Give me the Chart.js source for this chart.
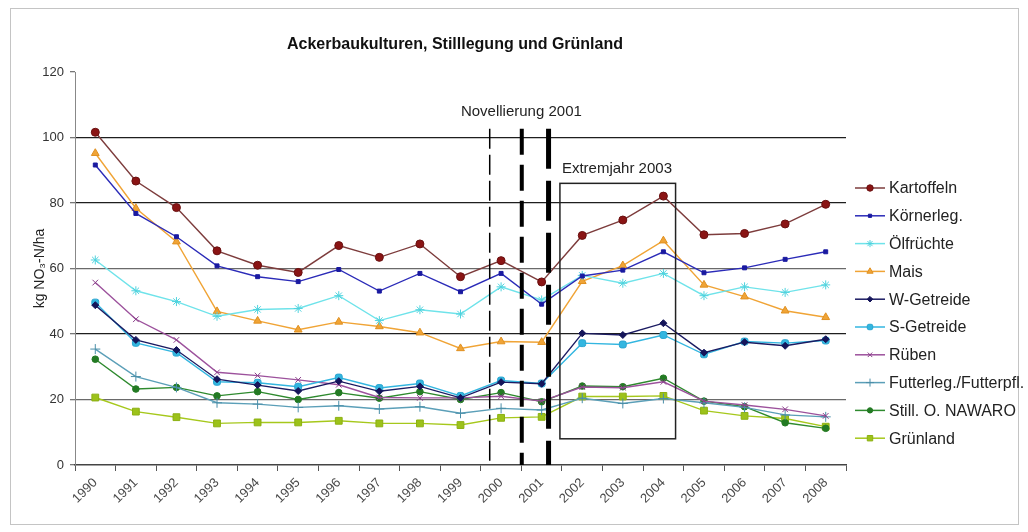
<!DOCTYPE html>
<html lang="de">
<head>
<meta charset="UTF-8">
<title>Ackerbaukulturen, Stilllegung und Grünland</title>
<script src="https://cdn.jsdelivr.net/npm/chart.js@4"></script>
<style>
  html, body { margin: 0; padding: 0; background: #fff; }
  canvas { display: block; }
</style>
</head>
<body>
<canvas id="chart" width="1028" height="532"></canvas>
<script>
  const years = ['1990', '1991', '1992', '1993', '1994', '1995', '1996', '1997', '1998', '1999',
                 '2000', '2001', '2002', '2003', '2004', '2005', '2006', '2007', '2008'];

  const kartoffeln  = [101.6, 86.7, 78.6, 65.4, 61.0, 58.8, 67.0, 63.4, 67.5, 57.5, 62.4, 55.9, 70.1, 74.8, 82.1, 70.3, 70.7, 73.6, 79.6];
  const koernerleg  = [91.6, 76.8, 69.7, 60.8, 57.5, 56.0, 59.7, 53.1, 58.5, 52.9, 58.5, 49.1, 57.7, 59.5, 65.1, 58.7, 60.2, 62.8, 65.1];
  const oelfruechte = [62.6, 53.2, 49.9, 45.4, 47.5, 47.8, 51.7, 44.1, 47.4, 46.1, 54.4, 50.4, 57.9, 55.5, 58.5, 51.7, 54.4, 52.7, 55.0];
  const mais        = [95.2, 78.4, 68.2, 46.9, 44.0, 41.3, 43.7, 42.3, 40.4, 35.6, 37.7, 37.5, 56.1, 60.9, 68.5, 55.0, 51.4, 47.1, 45.1];
  const wGetreide   = [48.8, 38.2, 35.1, 26.2, 24.4, 22.6, 25.6, 22.5, 24.0, 20.5, 25.3, 24.8, 40.2, 39.7, 43.3, 34.3, 37.5, 36.4, 38.4];
  const sGetreide   = [49.6, 37.3, 34.3, 25.4, 25.1, 23.9, 26.7, 23.5, 24.9, 21.1, 25.8, 24.9, 37.2, 36.8, 39.7, 33.8, 37.7, 37.2, 38.0];
  const rueben      = [55.7, 44.5, 38.2, 28.3, 27.3, 26.0, 24.5, 20.6, 20.5, 20.5, 21.0, 19.5, 23.8, 23.6, 25.4, 19.5, 18.3, 17.0, 15.0];
  const futterleg   = [35.4, 27.0, 23.7, 19.0, 18.6, 17.6, 18.1, 17.1, 17.8, 15.8, 17.3, 16.8, 20.4, 18.8, 20.3, 19.0, 17.6, 15.3, 14.7];
  const stilllegung = [32.3, 23.2, 23.7, 21.1, 22.4, 20.0, 22.1, 20.4, 22.4, 20.0, 22.1, 19.3, 24.1, 23.9, 26.5, 19.5, 17.8, 12.9, 11.2];
  const gruenland   = [20.6, 16.3, 14.6, 12.7, 13.0, 13.0, 13.5, 12.7, 12.7, 12.2, 14.4, 14.7, 20.9, 20.9, 21.1, 16.6, 15.0, 14.2, 11.7];

  const yTicks = [0, 20, 40, 60, 80, 100, 120];

  const FONT = "'Liberation Sans', Arial, sans-serif";

  // marker styles roughly like the Excel defaults in the original
  const series = [
    { label: 'Kartoffeln',            data: kartoffeln,  line: '#7d3c3c', fill: '#8a1414', edge: '#6a1010', style: 'circle',      r: 4 },
    { label: 'Körnerleg.',            data: koernerleg,  line: '#2b2bb8', fill: '#1a1aa0', edge: '#1a1aa0', style: 'rect',        r: 2.8 },
    { label: 'Ölfrüchte',             data: oelfruechte, line: '#6fe3ea', fill: '#6fe3ea', edge: '#4fd3de', style: 'star',        r: 4.5 },
    { label: 'Mais',                  data: mais,        line: '#f0a436', fill: '#f0a436', edge: '#e09020', style: 'triangle',    r: 4.5 },
    { label: 'W-Getreide',            data: wGetreide,   line: '#1b1b62', fill: '#15155a', edge: '#15155a', style: 'rectRot',     r: 3.5 },
    { label: 'S-Getreide',            data: sGetreide,   line: '#33b6e0', fill: '#33b6e0', edge: '#2aa5d0', style: 'rectRounded', r: 4 },
    { label: 'Rüben',                 data: rueben,      line: '#9c519c', fill: '#9c519c', edge: '#8a3f8a', style: 'crossRot',    r: 4 },
    { label: 'Futterleg./Futterpfl.', data: futterleg,   line: '#5b9fb8', fill: '#5b9fb8', edge: '#4a8ea8', style: 'cross',       r: 5 },
    { label: 'Still. O. NAWARO',      data: stilllegung, line: '#2e8a2e', fill: '#237a23', edge: '#237a23', style: 'circle',      r: 3.3 },
    { label: 'Grünland',              data: gruenland,   line: '#a6c81c', fill: '#9cc21a', edge: '#8cb012', style: 'rect',        r: 4.8 }
  ];

  // annotations in data units (x = category index)
  const novLines = [
    { at: 9.72,  width: 1.5, dash: [20, 6] },
    { at: 10.51, width: 4,   dash: [26, 10] },
    { at: 11.17, width: 5,   dash: [40, 12] }
  ];
  const novTop = 102.7;
  const extremBox = { x0: 11.45, x1: 14.3, y0: 8, y1: 86 };

  function gridColor(v) {
    if (v === 0 || v === 120) return 'rgba(0,0,0,0)';
    return (v === 20 || v === 60) ? '#6a6a6a' : '#1e1e1e';
  }

  const framePlugin = {
    id: 'frame',
    beforeDraw(chart) {
      const ctx = chart.ctx;
      ctx.save();
      ctx.fillStyle = '#fff';
      ctx.fillRect(0, 0, chart.width, chart.height);
      ctx.strokeStyle = '#c4c4c4';
      ctx.lineWidth = 1;
      ctx.strokeRect(10.5, 8.5, 1008, 516);
      ctx.restore();
    }
  };

  const notesPlugin = {
    id: 'notes',
    afterDatasetsDraw(chart) {
      const ctx = chart.ctx;
      const xs = chart.scales.x, ys = chart.scales.y;
      ctx.save();
      ctx.strokeStyle = '#000';
      novLines.forEach(l => {
        const x = xs.getPixelForValue(l.at);
        ctx.lineWidth = l.width;
        ctx.setLineDash(l.dash);
        ctx.beginPath();
        ctx.moveTo(x, ys.getPixelForValue(novTop));
        ctx.lineTo(x, ys.getPixelForValue(0));
        ctx.stroke();
      });
      ctx.setLineDash([]);
      ctx.lineWidth = 1.5;
      ctx.strokeStyle = '#222';
      const bx0 = xs.getPixelForValue(extremBox.x0), bx1 = xs.getPixelForValue(extremBox.x1);
      const by0 = ys.getPixelForValue(extremBox.y1), by1 = ys.getPixelForValue(extremBox.y0);
      ctx.strokeRect(bx0, by0, bx1 - bx0, by1 - by0);

      ctx.fillStyle = '#222';
      ctx.font = '15px ' + FONT;
      ctx.textBaseline = 'middle';
      ctx.textAlign = 'center';
      ctx.fillText('Novellierung 2001', xs.getPixelForValue(10.5), ys.getPixelForValue(107.8));
      ctx.textAlign = 'left';
      ctx.fillText('Extremjahr 2003', bx0 + 2, ys.getPixelForValue(90.4));
      ctx.restore();
    }
  };

  const sideLegend = {
    id: 'sideLegend',
    afterDraw(chart) {
      const ctx = chart.ctx;
      const x0 = chart.chartArea.right + 9;
      ctx.save();
      ctx.font = '16px ' + FONT;
      ctx.textBaseline = 'middle';
      ctx.textAlign = 'left';
      chart.data.datasets.forEach((ds, i) => {
        const y = 188 + i * 27.8;
        ctx.strokeStyle = ds.borderColor;
        ctx.lineWidth = 1.5;
        ctx.beginPath();
        ctx.moveTo(x0, y);
        ctx.lineTo(x0 + 30, y);
        ctx.stroke();
        ctx.fillStyle = ds.pointBackgroundColor;
        ctx.strokeStyle = ds.pointBorderColor;
        ctx.lineWidth = 1;
        Chart.helpers.drawPoint(ctx, { pointStyle: ds.pointStyle, radius: ds.pointRadius * 0.8, borderWidth: 1, rotation: 0 }, x0 + 15, y);
        ctx.fillStyle = '#222';
        ctx.fillText(ds.label, x0 + 34, y + 1);
      });
      ctx.restore();
    }
  };

  const titlePlugin = {
    id: 'topTitle',
    afterDraw(chart) {
      const ctx = chart.ctx;
      ctx.save();
      ctx.font = 'bold 16px ' + FONT;
      ctx.fillStyle = '#111';
      ctx.textAlign = 'center';
      ctx.textBaseline = 'middle';
      ctx.fillText('Ackerbaukulturen, Stilllegung und Grünland', 455, 45);
      ctx.restore();
    }
  };

  new Chart(document.getElementById('chart'), {
    type: 'line',
    data: {
      labels: years,
      datasets: series.map(s => ({
        label: s.label,
        data: s.data,
        borderColor: s.line,
        borderWidth: 1.4,
        pointStyle: s.style,
        pointRadius: s.r,
        pointBackgroundColor: s.fill,
        pointBorderColor: s.edge,
        pointBorderWidth: 1,
        tension: 0,
        fill: false
      }))
    },
    options: {
      responsive: false,
      animation: false,
      layout: { padding: { left: 12, right: 182, top: 72, bottom: 0 } },
      plugins: {
        legend: { display: false },
        title: { display: false },
        tooltip: { enabled: false }
      },
      scales: {
        x: {
          offset: true,
          grid: { offset: true, drawOnChartArea: false, tickLength: 6, tickColor: '#555' },
          border: { color: '#444', width: 1.5 },
          ticks: { autoSkip: false, maxRotation: 45, minRotation: 45, color: '#4a4a4a', padding: 4,
                   font: { size: 13, family: FONT } },
          afterFit: s => { s.height = 67; }
        },
        y: {
          min: 0,
          max: 120,
          afterBuildTicks: s => { s.ticks = yTicks.map(v => ({ value: v })); },
          grid: { color: c => gridColor(c.tick.value), lineWidth: 1.3, tickLength: 5, tickColor: '#777' },
          border: { color: '#888', width: 1 },
          ticks: { color: '#333', padding: 6, font: { size: 13, family: FONT } },
          title: { display: true, text: 'kg NO₃-N/ha', color: '#222', font: { size: 14, family: FONT },
                   padding: { top: 20, bottom: 0 } },
          afterFit: s => { s.width = 63; }
        }
      }
    },
    plugins: [framePlugin, notesPlugin, sideLegend, titlePlugin]
  });
</script>
</body>
</html>
